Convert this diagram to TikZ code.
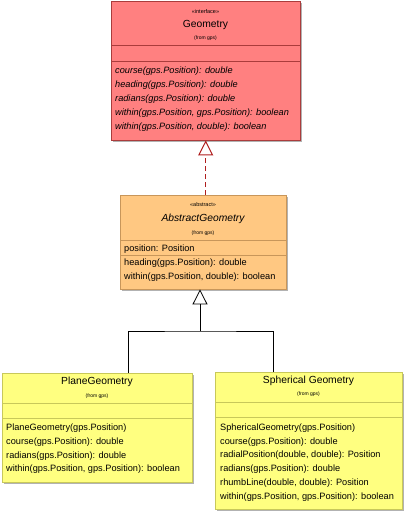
\documentclass[tikz,border=0pt]{standalone}
\usepackage{fontspec}
\setmainfont{Liberation Sans}
\usetikzlibrary{arrows.meta,calc,shadows}

\definecolor{geofill}{RGB}{255,128,128}
\definecolor{geoline}{RGB}{170,60,60}
\definecolor{absfill}{RGB}{255,200,130}
\definecolor{absline}{RGB}{200,150,90}
\definecolor{conffill}{RGB}{255,255,128}
\definecolor{confline}{RGB}{200,200,90}
\definecolor{realline}{RGB}{175,30,30}

\begin{document}
\begin{tikzpicture}[x=1pt, y=-1pt, >=latex,
    classbox/.style={draw, anchor=north west, inner sep=0pt,
      drop shadow={shadow xshift=2pt, shadow yshift=-2pt, fill=black!30, opacity=1}},
    stereo/.style={font=\fontsize{5.5}{6}\selectfont, inner sep=0pt},
    cname/.style={font=\fontsize{10.3}{12}\selectfont, inner sep=0pt},
    fromtag/.style={font=\fontsize{5}{6}\selectfont, inner sep=0pt},
    member/.style={font=\fontsize{9.2}{11}\selectfont, anchor=west, inner sep=0pt},
    sepline/.style={line width=0.8pt},
    generalize/.style={line width=0.8pt, -{Triangle[open, length=15pt, width=15pt]}},
    realize/.style={line width=1pt, realline, dash pattern=on 5pt off 3pt,
      -{Triangle[open, length=15pt, width=15pt]}}]
  \useasboundingbox (0,0) rectangle (405,511);

  % ---------------- Geometry (interface) ----------------
  \node[classbox, fill=geofill, draw=geoline, minimum width=189pt, minimum height=139pt]
    (geo) at (111,1) {};
  \node[stereo] (geo-st) at (205.5,12) {\guillemotleft interface\guillemotright};
  \node[cname] (geo-nm) at (205.5,25) {Geometry};
  \node[fromtag] (geo-fr) at (205.5,38) {(from gps)};
  \draw[sepline, geoline] (geo.west |- 0,45) -- (geo.east |- 0,45);
  \draw[sepline, geoline] (geo.west |- 0,61) -- (geo.east |- 0,61);
  \node[member] (geo-op1) at (115,71)  {\itshape course(gps.Position): double};
  \node[member] (geo-op2) at (115,85)  {\itshape heading(gps.Position): double};
  \node[member] (geo-op3) at (115,99)  {\itshape radians(gps.Position): double};
  \node[member] (geo-op4) at (115,113) {\itshape within(gps.Position, gps.Position): boolean};
  \node[member] (geo-op5) at (115,127) {\itshape within(gps.Position, double): boolean};

  % ---------------- AbstractGeometry ----------------
  \node[classbox, fill=absfill, draw=absline, minimum width=166pt, minimum height=94pt]
    (abs) at (120,195) {};
  \node[stereo] (abs-st) at (203,205) {\guillemotleft abstract\guillemotright};
  \node[cname] (abs-nm) at (203,219) {\itshape AbstractGeometry};
  \node[fromtag] (abs-fr) at (203,233) {(from gps)};
  \draw[sepline, absline] (abs.west |- 0,240) -- (abs.east |- 0,240);
  \node[member] (abs-at1) at (124,249) {position: Position};
  \draw[sepline, absline] (abs.west |- 0,255) -- (abs.east |- 0,255);
  \node[member] (abs-op1) at (124,263) {heading(gps.Position): double};
  \node[member] (abs-op2) at (124,277) {within(gps.Position, double): boolean};

  % ---------------- PlaneGeometry ----------------
  \node[classbox, fill=conffill, draw=confline, minimum width=190pt, minimum height=109pt]
    (plane) at (2,373) {};
  \node[cname] (plane-nm) at (97,382) {PlaneGeometry};
  \node[fromtag] (plane-fr) at (97,396) {(from gps)};
  \draw[sepline, confline] (plane.west |- 0,403) -- (plane.east |- 0,403);
  \draw[sepline, confline] (plane.west |- 0,418) -- (plane.east |- 0,418);
  \node[member] (plane-op1) at (6,428) {PlaneGeometry(gps.Position)};
  \node[member] (plane-op2) at (6,442) {course(gps.Position): double};
  \node[member] (plane-op3) at (6,456) {radians(gps.Position): double};
  \node[member] (plane-op4) at (6,469) {within(gps.Position, gps.Position): boolean};

  % ---------------- SphericalGeometry ----------------
  \node[classbox, fill=conffill, draw=confline, minimum width=187pt, minimum height=137pt]
    (sph) at (215,372) {};
  \node[cname] (sph-nm) at (308.5,381) {Spherical Geometry};
  \node[fromtag] (sph-fr) at (308.5,394) {(from gps)};
  \draw[sepline, confline] (sph.west |- 0,402) -- (sph.east |- 0,402);
  \draw[sepline, confline] (sph.west |- 0,417) -- (sph.east |- 0,417);
  \node[member] (sph-op1) at (220,428) {SphericalGeometry(gps.Position)};
  \node[member] (sph-op2) at (220,442) {course(gps.Position): double};
  \node[member] (sph-op3) at (220,455) {radialPosition(double, double): Position};
  \node[member] (sph-op4) at (220,469) {radians(gps.Position): double};
  \node[member] (sph-op5) at (220,483) {rhumbLine(double, double): Position};
  \node[member] (sph-op6) at (220,497) {within(gps.Position, gps.Position): boolean};

  % ---------------- connectors ----------------
  % realization AbstractGeometry -> Geometry
  \draw[realize] (abs.north -| geo.south) -- (geo.south);
  % generalization PlaneGeometry, SphericalGeometry -> AbstractGeometry
  \coordinate (fork) at (200,331);
  \coordinate (plane-in) at (128,373);
  \coordinate (sph-in) at (273,372);
  \draw[line width=0.8pt] (plane-in) |- (fork) -| (sph-in);
  \draw[generalize] (fork) -- (abs.south -| fork);
\end{tikzpicture}
\end{document}
